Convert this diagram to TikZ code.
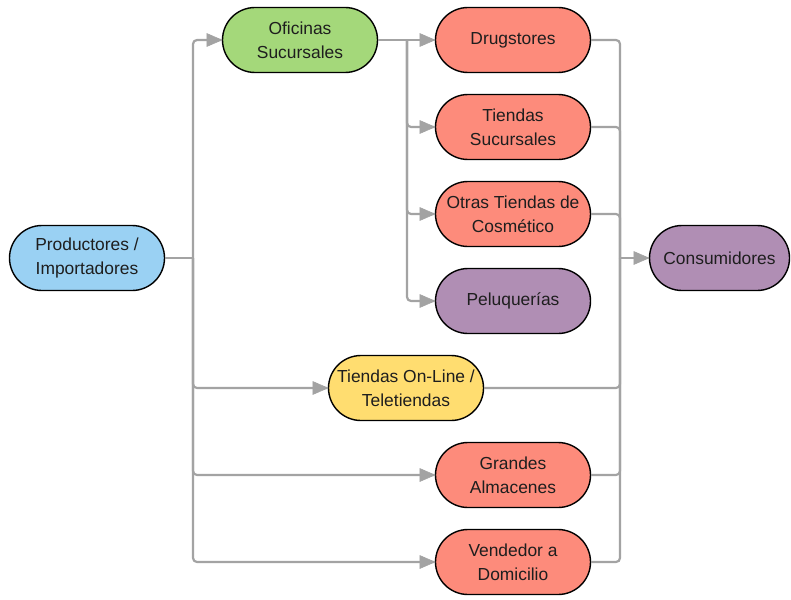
\documentclass[tikz,border=0pt]{standalone}
\usepackage{fontspec}
\setmainfont{Liberation Sans}
\usetikzlibrary{arrows.meta}
\definecolor{cgreen}{HTML}{A4D87A}
\definecolor{csalmon}{HTML}{FD8B7B}
\definecolor{cblue}{HTML}{9AD1F3}
\definecolor{cpurple}{HTML}{B08EB4}
\definecolor{cyellow}{HTML}{FFDD70}
\definecolor{cline}{HTML}{A3A3A3}
\definecolor{ctext}{HTML}{1E1E1E}
\tikzset{
  box/.style={draw=black, line width=1.4pt, rounded corners=32.5pt,
    minimum width=155pt, minimum height=65pt, inner sep=0pt,
    align=center, text=ctext, font=\fontsize{17.4}{24}\selectfont},
  conn/.style={draw=cline, line width=2.2pt, rounded corners=4pt},
  tip/.style={draw=cline, fill=cline, line width=0.6pt, line join=miter},
}
\begin{document}
\begin{tikzpicture}[x=1pt,y=-1pt]
\useasboundingbox (0,0) rectangle (791,599);
% nodes
\node[box, fill=cblue] (prod) at (87,258) {Productores /\\Importadores};
\node[box, fill=cgreen] (ofi) at (300,40) {Oficinas\\Sucursales};
\node[box, fill=csalmon] (drug) at (513,40) {Drugstores};
\node[box, fill=csalmon] (tsuc) at (513,127) {Tiendas\\Sucursales};
\node[box, fill=csalmon] (otras) at (513,214) {Otras Tiendas de\\Cosmético};
\node[box, fill=cpurple] (pelu) at (513,301) {Peluquerías};
\node[box, fill=cyellow] (online) at (406,388) {Tiendas On-Line /\\Teletiendas};
\node[box, fill=csalmon] (grandes) at (513,475) {Grandes\\Almacenes};
\node[box, fill=csalmon] (vend) at (513,562) {Vendedor a\\Domicilio};
\node[box, fill=cpurple, minimum width=140pt] (cons) at (719.5,258) {Consumidores};
% junction points
\coordinate (t) at (193,258);
\coordinate (u) at (407,40);
\coordinate (j) at (620,258);
% left trunk
\draw[conn] (prod.east) -- (t);
\draw[conn] (t) |- (ofi.west);
\draw[conn] (t) |- (online.west);
\draw[conn] (t) |- (grandes.west);
\draw[conn] (t) |- (vend.west);
% oficinas trunk
\draw[conn] (ofi.east) -- (drug.west);
\draw[conn] (u) |- (tsuc.west);
\draw[conn] (u) |- (otras.west);
\draw[conn] (u) |- (pelu.west);
% right merge
\draw[conn] (drug.east) -| (j);
\draw[conn] (tsuc.east) -| (j);
\draw[conn] (otras.east) -| (j);
\draw[conn] (online.east) -| (j);
\draw[conn] (grandes.east) -| (j);
\draw[conn] (vend.east) -| (j);
\draw[conn] (j) -- (cons.west);
% arrow tips
\foreach \n in {ofi,online,grandes,vend,drug,tsuc,otras,pelu,cons}{
  \draw[tip] (\n.west) -- ([xshift=-15pt,yshift=-6.5pt]\n.west)
    -- ([xshift=-15pt,yshift=6.5pt]\n.west) -- cycle;
}
\end{tikzpicture}
\end{document}
